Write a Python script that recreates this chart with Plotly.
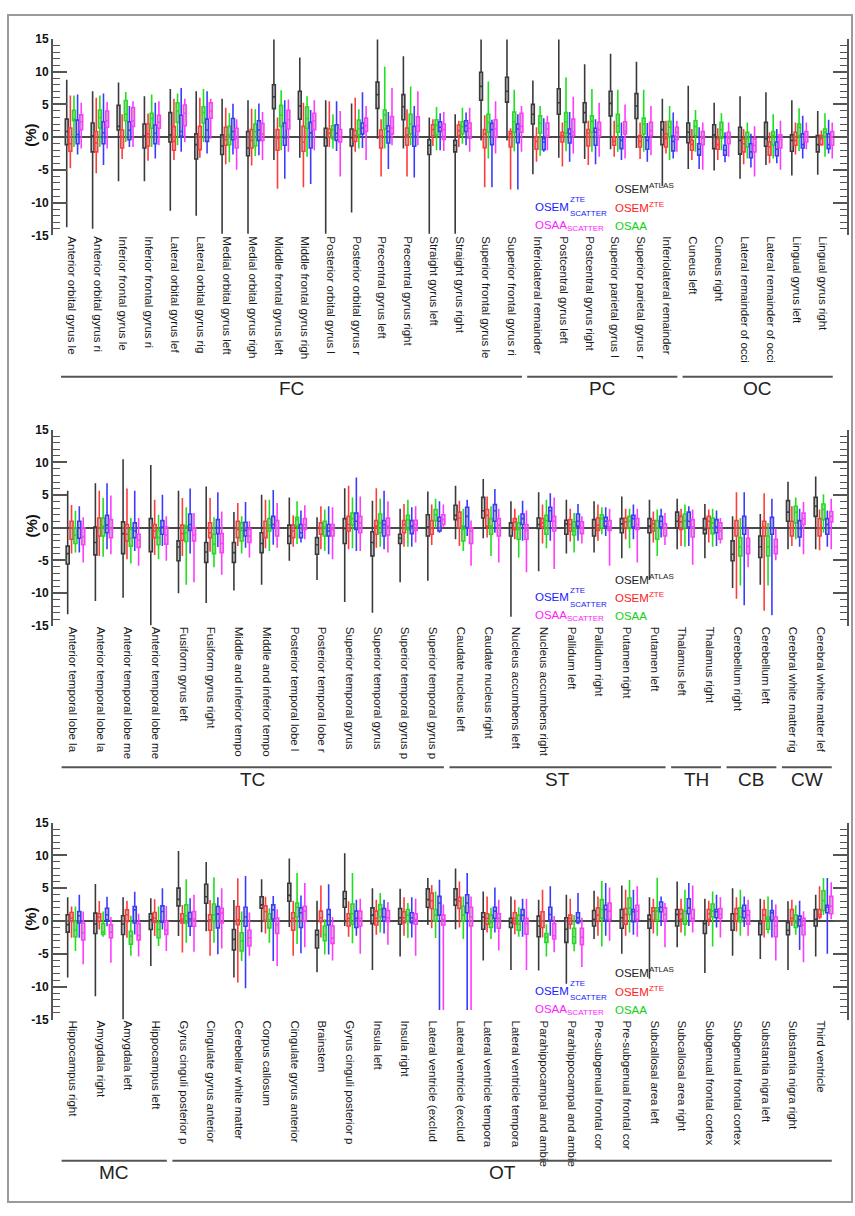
import plotly.graph_objects as go

# ---------------- categories ----------------
P1_LABELS = ["Anterior orbital gyrus le", "Anterior orbital gyrus ri", "Inferior frontal gyrus le",
             "Inferior frontal gyrus ri", "Lateral orbital gyrus lef", "Lateral orbital gyrus rig",
             "Medial orbital gyrus left", "Medial orbital gyrus righ", "Middle frontal gyrus left",
             "Middle frontal gyrus righ", "Posterior orbital gyrus l", "Posterior orbital gyrus r",
             "Precentral gyrus left", "Precentral gyrus right", "Straight gyrus left",
             "Straight gyrus right", "Superior frontal gyrus le", "Superior frontal gyrus ri",
             "Inferiolateral remainder", "Postcentral gyrus left", "Postcentral gyrus right",
             "Superior parietal gyrus l", "Superior parietal gyrus r", "Inferiolateral remainder",
             "Cuneus left", "Cuneus right", "Lateral remainder of occi", "Lateral remainder of occi",
             "Lingual gyrus left", "Lingual gyrus right"]
P1_GROUPS = [("FC", 0, 17), ("PC", 18, 23), ("OC", 24, 29)]

P2_LABELS = ["Anterior temporal lobe la", "Anterior temporal lobe la", "Anterior temporal lobe me",
             "Anterior temporal lobe me", "Fusiform gyrus left", "Fusiform gyrus right",
             "Middle and inferior tempo", "Middle and inferior tempo", "Posterior temporal lobe l",
             "Posterior temporal lobe r", "Superior temporal gyrus", "Superior temporal gyrus",
             "Superior temporal gyrus p", "Superior temporal gyrus p", "Caudate nucleus left",
             "Caudate nucleus right", "Nucleus accumbens left", "Nucleus accumbens right",
             "Pallidum left", "Pallidum right", "Putamen right", "Putamen left",
             "Thalamus left", "Thalamus right", "Cerebellum right", "Cerebellum left",
             "Cerebral white matter rig", "Cerebral white matter lef"]
P2_GROUPS = [("TC", 0, 13), ("ST", 14, 21), ("TH", 22, 23), ("CB", 24, 25), ("CW", 26, 27)]

P3_LABELS = ["Hippocampus right", "Amygdala right", "Amygdala left", "Hippocampus left",
             "Gyrus cinguli posterior p", "Cingulate gyrus anterior", "Cerebellar white matter",
             "Corpus callosum", "Cingulate gyrus anterior", "Brainstem", "Gyrus cinguli posterior p",
             "Insula left", "Insula right", "Lateral ventricle (exclud", "Lateral ventricle (exclud",
             "Lateral ventricle tempora", "Lateral ventricle tempora", "Parahippocampal and ambie",
             "Parahippocampal and ambie", "Pre-subgenual frontal cor", "Pre-subgenual frontal cor",
             "Subcallosal area left", "Subcallosal area right", "Subgenual frontal cortex",
             "Subgenual frontal cortex", "Substantia nigra left", "Substantia nigra right",
             "Third ventricle"]
P3_GROUPS = [("MC", 0, 3), ("OT", 4, 27)]

# ---------------- values: (lower whisker, q1, median, q3, upper whisker) ----------------
P1_OSEM_ATLAS = [(-13.75, -1.15, 0.85, 2.75, 8.75), (-14, -2.25, 0.15, 2.15, 7), (-6.75, 1.1, 1.65, 4.85, 8.35),
                 (-6.75, -1.65, 0.15, 2, 6.25), (-11.25, -0.75, 0.35, 3.75, 7.35), (-12, -3.35, -1.15, 0.5, 7),
                 (-14.75, -2.65, -1.35, 0.35, 5.85), (-14.75, -2.85, -1.65, 0.85, 5.65), (-3.5, 4.35, 6.15, 8, 14.9),
                 (-3.15, 2.75, 4.75, 7, 12.15), (-14.75, -1.35, -0.1, 1.35, 5.65), (-11.5, -1.35, -0.1, 1.25, 5.15),
                 (-0.25, 4.4, 6.5, 8.4, 14.9), (-1.75, 2.65, 4.65, 6.5, 12.35), (-14.75, -2.65, -1.25, -0.4, 3),
                 (-14.75, -2.25, -1.25, -0.5, 3.5), (-0.5, 5.65, 7.75, 9.9, 14.9), (-0.5, 5.35, 7, 9.15, 14.9),
                 (-5.65, 2, 3.5, 5, 8.65), (-3.15, 3.5, 5.25, 7.4, 14.9), (-3.35, 2.25, 3.75, 5.25, 11.15),
                 (-1.85, 3.25, 5.15, 7, 12.75), (-1.65, 2.85, 4.75, 6.65, 11.5), (-7.5, -1.15, 1.15, 2.35, 5.85),
                 (-4.85, -0.85, 0.75, 2.15, 7.85), (-5.1, -1.75, 0.35, 1.9, 5.25), (-6.35, -2.6, -0.5, 1.5, 6.25),
                 (-4.25, -1.4, -0.25, 2.25, 6.85), (-5.85, -2.15, -0.5, 0.35, 5.65), (-5.75, -2.25, -1.15, 0.25, 4)]
P1_OSEM_ZTE = [(-4.75, -2.15, -1, 1.4, 6.35), (-5.5, -2.25, -0.9, 0.85, 6), (-3.35, -1.65, 0.1, 1.1, 3.5),
               (-3.6, -1.35, 0.5, 2, 3.6), (-3.5, -2, -0.65, 1.6, 5.85), (-3.15, -1.9, 0, 1.65, 6),
               (-4.15, -1.25, -0.4, 1.5, 4.5), (-4.35, -1.65, -0.5, 1.15, 4.35), (-7.9, -2, -0.15, 1.15, 3),
               (-7.65, -2.15, -0.75, 1.65, 5.25), (-1.5, 0, 0.6, 1.25, 5.5), (-2.25, -0.65, 0.25, 1, 6),
               (-6, -1.65, 0.15, 1.1, 2.75), (-6, -1.25, 0.35, 1.4, 4.25), (-1.35, 0.15, 1.15, 1.9, 2.75),
               (-1.5, 0.25, 1, 1.85, 2.5), (-7.65, -1.6, 0.5, 1.15, 3.35), (-8, -1.5, 0.5, 0.85, 1.35),
               (-3.75, -1.85, -0.65, 0, 1.5), (-4.5, -0.75, 0.25, 0.75, 2.25), (-4.25, -1.35, 0.6, 1.15, 2.5),
               (-3, -1.25, -0.65, 0, 2.5), (-3.35, -1.5, -0.65, 0.25, 2.25), (-2.5, -1.5, -0.25, 0.5, 2.5),
               (-3.5, -2, -1.1, -0.5, 1.25), (-3.5, -1.85, -1.15, -0.25, 1.35), (-4.15, -2.25, -1, -0.25, 1.25),
               (-4, -2.75, -1.5, -0.75, 0.75), (-2.65, -1.25, -0.5, 0.75, 2.25), (-1.3, -1.15, -0.25, 0.25, 1)]
P1_OSAA = [(-1.5, 2.5, 2.75, 4.1, 6.35), (-1.5, 1.4, 3, 4.15, 6.35), (-0.75, 2.5, 3.5, 5.6, 6.9),
           (-1.5, 1.35, 2.85, 3.65, 6.5), (-1.25, 2.25, 4, 5.25, 6.65), (-0.75, 2.15, 3.75, 4.65, 7.35),
           (-3.85, -1.15, 0.35, 1.65, 3.65), (-2.9, -1.35, 0.85, 2, 4.25), (-2, 1.65, 3.35, 4.85, 7.15),
           (-3, 1.35, 2.85, 4.6, 6.25), (-1.75, -0.25, 1.15, 1.75, 3.5), (-1.75, 0.35, 1.25, 2.6, 4.25),
           (-1.75, 1.25, 3.4, 4.15, 10.75), (-1.25, 0.5, 2, 3.5, 7.75), (-2, 0.35, 1.85, 2.65, 4.6),
           (-1, 0.5, 1.6, 2.35, 4.5), (-3.25, 0.75, 2.25, 3.5, 8.5), (-2.15, 0.75, 2.35, 3.85, 7.25),
           (-2.85, 0.6, 2.1, 3.25, 4.75), (-2.15, 0.65, 2.35, 3.75, 9.15), (-2.25, 0.75, 2.4, 3.25, 7.35),
           (-2.25, 0.75, 1.75, 3.5, 7.25), (-2.25, 0.5, 2, 2.9, 7.25), (-3.5, 0, 1.5, 2.4, 4.75),
           (-2.25, 0.25, 1.65, 2.5, 4.15), (-2, -0.15, 1.15, 2.25, 3.65), (-3.25, -1.5, -0.25, 0.75, 2.25),
           (-3.25, -1.25, 0.25, 0.85, 3.5), (-2.1, 0.25, 1.5, 2, 4.4), (-3, 0, 0.75, 1.25, 3.65)]
P1_OSEM_SCATTER = [(-2.65, -1, 0.4, 2.6, 6.5), (-4.25, -1, 0.65, 2.35, 6.65), (-1.5, -0.4, 1.05, 2.35, 4.75),
                   (-3.25, -1, 0.6, 1.85, 5.25), (-2.25, 0.15, 0.85, 3.35, 7.5), (-2.5, -0.65, 1.1, 2.75, 7),
                   (-2.65, -0.4, 0.85, 2.85, 5.1), (-2.75, -0.5, 1.1, 2.5, 5.15), (-6.35, -1.25, -0.1, 2.15, 5.65),
                   (-7.15, -1.65, 0.65, 2.25, 4.15), (-2.1, -0.5, 0.6, 1.9, 5.5), (-1.65, 0.5, 1.4, 2.15, 6.85),
                   (-4.85, -0.9, 0.85, 1.75, 3.85), (-6.15, -1.4, 0.1, 1.65, 4.75), (-2, 0.85, 1.5, 2.35, 3.65),
                   (-1.25, 0.85, 1.75, 2.5, 3.75), (-7.65, -1.15, 1.15, 2.1, 2.65), (-8, -0.85, 1.25, 2, 3.5),
                   (-2.25, -1.9, -0.75, -0.25, 2.9), (-3.75, -0.9, 0.5, 1.25, 3.85), (-4.15, -1.25, 0.75, 1.35, 2.75),
                   (-3.5, -1.75, -0.5, 0, 2.25), (-3.75, -1.85, -0.5, 0, 2.15), (-3.25, -2.1, -0.65, 0.15, 3.75),
                   (-4.85, -2.75, -1.85, -1, 1.5), (-3.85, -2.75, -2, -1.25, 0.75), (-4.65, -3.15, -2.25, -1, 0.5),
                   (-4, -2.85, -1.85, -0.75, 1.25), (-3.25, -1.65, -1.15, 0.5, 3.25), (-2.5, -1.75, -1.15, 0.5, 2.65)]
P1_OSAA_SCATTER = [(-1.75, 1.15, 2.35, 3.4, 5.25), (-1.75, 1.5, 2.5, 4, 5.35), (-1.5, 1.65, 2.5, 4.5, 5.5),
                   (-1.25, 1.35, 2.25, 3.35, 5.5), (-0.75, 1.75, 3.65, 4.9, 5.85), (-0.25, 2.9, 4, 5.25, 5.85),
                   (-5, -1.65, -0.15, 1.35, 2.75), (-3.5, -0.5, 0.5, 2.1, 3.85), (-2.25, 1.25, 2.65, 4.1, 5.75),
                   (-2, 1.15, 2.5, 3.65, 5.65), (-6, -0.75, 0, 1.15, 4), (-3.5, 0.85, 1.75, 2.9, 4.75),
                   (-1.25, 0.5, 1.4, 3.15, 7.5), (-1.25, 0.85, 1.75, 3.1, 7), (-2.1, -0.35, 1.15, 2, 3.85),
                   (-2.25, -0.15, 1.35, 2.15, 4.5), (-2.5, 0, 1.25, 2.65, 5.5), (-2.25, 0.75, 1.65, 3.65, 4.75),
                   (-2, 0.15, 1.25, 2.15, 3.25), (-2.5, 0.25, 0.75, 2.75, 6.15), (-3, 0.15, 1.15, 2.25, 5.25),
                   (-3.25, 0.5, 0.9, 2.35, 5), (-2.75, 0.25, 1, 2.25, 4.75), (-2.25, -0.35, 0.75, 1.5, 2.5),
                   (-5, -1.15, -0.15, 0.85, 2.25), (-3, -1, -0.15, 0.75, 2.25), (-6, -2.25, -1.25, -0.25, 1.65),
                   (-5, -1.65, -0.35, 0.35, 2.5), (-1.85, -0.75, 0, 0.85, 2.25), (-3.25, -1.25, 0, 0.85, 2.25)]

P2_OSEM_ATLAS = [(-13.25, -5.55, -3.95, -2.8, 5.65), (-11.2, -4.15, -2.25, 0.1, 6.8), (-10.7, -3.95, -0.9, 0.9, 10.5),
                 (-14.9, -3.65, 0, 1.4, 9.6), (-10, -5.05, -2.95, -2, 5.65), (-11.5, -5.3, -3.7, -2.25, 6.3),
                 (-9.6, -5.3, -3.8, -2.25, 2.4), (-8.7, -3.8, -2.4, -0.75, 5.05), (-5.05, -2.4, -1.25, 0.4, 4.65),
                 (-8, -4.05, -2.6, -1.5, 1.6), (-11.35, -2.4, -0.1, 1.4, 6.05), (-13, -4.3, -2.25, -0.6, 4.15),
                 (-8.35, -2.4, -1.6, -1, 2.9), (-8.1, -1.25, 0.1, 2, 5.55), (-1.75, 1.25, 1.9, 3.45, 6.45),
                 (-1.6, 1.5, 2.6, 4.65, 7.45), (-13.6, -1.25, 0, 0.75, 4.05), (-6.65, -0.1, 0.5, 1.5, 5.45),
                 (-3.95, -1, 0.6, 1.15, 4.3), (-3.8, -1.25, 0, 1.25, 4.05), (-4.65, -0.75, 0.6, 1.4, 4.8),
                 (-8, -0.75, 0.25, 1.4, 4.3), (-3.3, 0, 1, 2.4, 4.45), (-4.65, -0.9, -0.25, 1.4, 3.65),
                 (-9.2, -5.05, -4.05, -2, 1.75), (-8.7, -4.55, -2.9, -1.25, 2.1), (-3.3, 1, 2.4, 4.15, 7.05),
                 (-3.3, 1.75, 3.3, 4.65, 7.85)]
P2_OSEM_ZTE = [(-3.95, -1.75, 0, 1, 3.5), (-4.3, -1.25, 0, 1.5, 5.65), (-4.8, -2, -1, 0.5, 6),
               (-4.15, -1.5, -0.5, 0.5, 4.3), (-4.3, -1.9, -0.9, 0.4, 4.55), (-3.65, -1.5, -0.75, 0.75, 4.55),
               (-2.8, -1.5, -0.25, 1, 3.8), (-3.15, -1.5, 0, 1, 4.3), (-2.9, -1.5, -0.5, 0.4, 1.9),
               (-3.3, -1, -0.1, 0.75, 3.3), (-3.3, -0.5, 0.5, 1.75, 6.45), (-3.05, -1, 0.25, 1.1, 6.05),
               (-2.9, -0.75, 0.5, 1.1, 3.65), (-2.65, -1, -0.1, 1.1, 3.55), (-2.8, 0, 1.5, 2.4, 4.15),
               (-1.5, 0.25, 1.9, 2.8, 4.8), (-1.75, -0.25, 0.9, 1.4, 2.9), (-2.4, 0.1, 0.75, 1.4, 3.55),
               (-2.1, -0.5, 0.5, 1.25, 2.9), (-2, -0.4, 0.4, 1.5, 3.55), (-1.75, 0, 0.9, 1.5, 2.9),
               (-2.25, -0.5, 0.6, 1.1, 2.5), (-2.8, -0.25, 0.9, 1.75, 2.9), (-2.25, 0, 1, 1.75, 2.8),
               (-10.85, -1.25, 0, 1.1, 5.45), (-12.7, -1.25, 0.1, 1, 5.3), (-2.8, -1.25, 0, 1, 3.3),
               (-3.45, -1.25, -0.1, 1.4, 2.8)]
P2_OSAA = [(-3.8, -2.4, -1.1, 0, 2.6), (-4.45, -1.25, 0.25, 1.5, 4.55), (-5.45, -2.8, -1.6, -0.25, 1.5),
           (-4.8, -2.6, -1.5, -0.4, 2), (-8.7, -2.1, -0.75, 0.25, 3.15), (-6.05, -3.95, -2.5, -1, 1.6),
           (-3.95, -2, -0.4, 0.75, 1.75), (-3.55, -0.5, 0.4, 1.4, 4.3), (-2.5, 0.25, 1.25, 1.6, 4.05),
           (-3.55, -1.25, 0.1, 1, 2.8), (-3.15, 0.4, 1.4, 2.25, 4.65), (-2.9, -0.75, 0.75, 2.1, 4.45),
           (-2.9, -0.25, 1.25, 1.9, 4.3), (-0.1, 1.1, 2, 2.8, 4.45), (-3.55, -2, -0.25, 0.25, 2.9),
           (-4.3, -1, 0.25, 1.4, 3.3), (-4.55, -1.75, -0.25, 0.75, 1.9), (-3.15, -1, 1.1, 1.9, 4.3),
           (-3.8, -1.1, -0.5, 0.9, 2.25), (-1, 0, 1.4, 2, 3.15), (-3.15, -0.1, 1, 1.75, 2.9),
           (-4.3, -1.75, 0, 1.1, 2.8), (-2.9, 0, 1.1, 2.1, 3.55), (-2.9, -0.9, 0.75, 1.5, 2.9),
           (-8.85, -4.3, -2.9, -1.5, 1.5), (-8.85, -4.3, -2.9, -1.25, 0.75), (-1.75, 0.75, 2.4, 3.3, 4.65),
           (-0.75, 1.25, 2.8, 3.65, 5.15)]
P2_OSEM_SCATTER = [(-3.8, -1.6, 0, 1, 3.3), (-3.3, -0.75, 0.4, 1.9, 6.8), (-3.55, -1.5, -0.5, 0.75, 5.65),
                   (-2.8, -1, 0.1, 1.1, 5.05), (-3.95, -0.4, 0.5, 2.1, 6), (-2.95, -0.9, 0, 1.25, 5.45),
                   (-3.05, -1.25, -0.4, 0.85, 3.95), (-2.6, 0, 0.5, 1.75, 5.8), (-2.25, -1.5, -0.75, 0.5, 2.65),
                   (-4.05, -1.25, -0.5, 0.5, 3.3), (-3.55, -0.25, 1, 2.25, 7.7), (-3.3, -1.25, 0.5, 1.1, 5.65),
                   (-2.9, -0.9, 0.25, 1.1, 3.15), (-0.75, -0.5, 1, 1.6, 4.05), (-1.25, 0, 1.75, 3.15, 4.3),
                   (-0.75, 1, 2.6, 3.55, 5.95), (-2, 0.5, 1.4, 2.1, 4.15), (-2, 1, 2.6, 3.15, 5.3),
                   (-2, 0.25, 1, 2.1, 3.65), (-1.25, 0.25, 1, 1.6, 3.15), (-1.75, 0.1, 1.4, 1.9, 3.55),
                   (-1.5, 0.1, 1, 1.75, 2.9), (-2.8, 0.1, 1, 2.4, 3.3), (-2.8, -0.75, 0.1, 1.25, 2.65),
                   (-11.85, -1, 0, 1.75, 5.45), (-13.4, -1, 0, 1.6, 4.45), (-2.9, -1.4, -0.1, 1.1, 2.9),
                   (-2.9, -1, 0.5, 1.4, 2.65)]
P2_OSAA_SCATTER = [(-5.3, -2.6, -1.4, 0, 1.6), (-4.05, -1.5, -0.15, 1.25, 4.95), (-5.8, -3, -1.9, -1, 1.5),
                   (-5.05, -2.5, -1.1, 0.1, 1.75), (-8.35, -2, -1.1, 0, 2.25), (-7.2, -3.8, -2.4, -0.9, 2.5),
                   (-4.55, -2.25, -1.25, -0.25, 1), (-3.05, -1.25, 0, 1.1, 3.8), (-1.75, -0.25, 0.5, 1.4, 3.45),
                   (-4.8, -1.25, -0.25, 0.5, 3.15), (-3.55, -0.75, 0.75, 1.75, 4.8), (-3.8, -1.1, 0.25, 1.5, 4.05),
                   (-2.25, -0.4, 0.5, 1.15, 3.3), (0.1, 0.5, 1.25, 2, 3.55), (-5.8, -2.4, -0.5, 0, 1.1),
                   (-5.3, -1.25, 0.4, 1.4, 2.9), (-6.8, -1.75, -0.4, 0.5, 2.65), (-6.3, -0.5, 1, 1.75, 4.65),
                   (-2.4, -0.9, 0, 0.9, 1.75), (-5.8, -0.4, 0.1, 1.1, 2.9), (-5.3, -0.25, 0.5, 1.4, 2.9),
                   (-2.65, -1.25, -0.1, 0.6, 2.25), (-5.65, -1.4, 0.1, 1.25, 2.8), (-2.4, -1.75, -0.5, 0.75, 1.5),
                   (-6.05, -3.95, -2.85, -1.6, -0.1), (-4.95, -3.95, -2.9, -1.75, -0.1), (-4.05, 0.5, 1.4, 2.25, 3.95),
                   (-3.3, 0.9, 1.75, 2.5, 4.45)]

P3_OSEM_ATLAS = [(-8.6, -1.7, -0.55, 0.95, 3.6), (-11.45, -1.9, -0.45, 1.2, 5.65), (-15, -2.05, -0.45, 0.8, 3.6),
                 (-6.85, -1.3, 0.2, 1.1, 3.45), (-2.3, 2.3, 3.3, 5, 10.65), (-1.55, 2.7, 3.7, 5.6, 9),
                 (-8.6, -4.4, -2.8, -1.3, 3.2), (-1.7, 1.95, 2.45, 3.7, 6.35), (-0.9, 3.0, 3.9, 5.75, 9.5),
                 (-7.8, -4.1, -2.1, -1.4, 3.1), (-0.75, 2.1, 3.4, 4.5, 10.3), (-7.45, -0.4, 0.9, 2, 5),
                 (-5.4, -0.5, 0.5, 1.9, 4.9), (-0.6, 2.1, 3.25, 4.9, 6.55), (-1.25, 2.4, 3.25, 4.9, 8),
                 (-6, -1.25, 0.6, 1.25, 4.5), (-7.45, -1, -0.25, 0.4, 3.75), (-7.55, -2.4, -0.75, 0.75, 3.25),
                 (-9.55, -3.25, -1.25, 0.5, 4), (-2.75, -0.75, 0.25, 1.6, 4.6), (-5, -1.1, 0.5, 1.75, 5.4),
                 (-8.8, -1.1, 0.25, 0.9, 3.6), (-4, -0.75, 1, 1.75, 6), (-7.9, -1.9, -0.4, 0, 3.4),
                 (-5.3, -1.4, 0, 1.1, 5), (-5.8, -2.1, -0.4, 0, 3.4), (-7.45, -2.1, -1.4, -0.25, 3),
                 (-5.4, -0.75, 0.25, 1.75, 4)]
P3_OSEM_ZTE = [(-2.55, -0.05, 0.45, 1.3, 2.2), (-1.3, -0.05, 0.6, 1.1, 3.05), (-2.55, -0.05, 0.95, 1.7, 3.1),
               (-2.3, -0.2, 0.45, 1.3, 3.3), (-4.8, -0.3, 0.3, 1.1, 2.45), (-5.3, -1.4, 0.2, 0.95, 3.2),
               (-9.35, -0.55, 0.2, 2.2, 6.5), (-1.9, 0.1, 1.45, 2.3, 3.7), (-5.3, -1.4, 0.4, 1.25, 3.1),
               (-2.5, -0.1, 0.5, 1.5, 5.4), (-2.4, -0.75, 0.4, 1.1, 3), (-2.1, -0.6, 0.4, 1.5, 3.25),
               (-2.25, -0.25, 0.5, 1.4, 3.6), (-1.1, 1.9, 3.1, 4.25, 5.5), (-1, 1.9, 3, 3.6, 6),
               (-1.75, -0.5, 0.4, 1.1, 3.75), (-2, -0.4, 0.4, 1.25, 3.25), (-2.5, -1, 0, 1.4, 4.75),
               (-1.25, -0.5, 0.4, 0.9, 3.4), (-2.25, 0, 0.9, 2, 3.75), (-2.25, -0.5, 1, 1.9, 4.75),
               (-1.9, 0.1, 1.5, 2, 3.4), (-1.75, 0.25, 1.1, 1.75, 3.4), (-0.75, 0.25, 1.1, 1.75, 3.1),
               (-1.6, 0, 1.1, 1.9, 3.6), (-2.5, 0, 0.9, 1.75, 3.25), (-0.75, 0, 0.4, 1.75, 3.25),
               (0.25, 0.6, 1, 1.75, 5.3)]
P3_OSAA = [(-4.55, -2.4, -1.4, -0.05, 2.2), (-2.4, -2.05, -1.7, -0.4, 1.45), (-5.3, -3.55, -2.3, -1.55, 0.8),
           (-3.8, -2.55, -1.3, -0.3, 2.2), (-3.3, -0.3, 0.8, 2.45, 6.35), (-3.3, -0.05, 0.95, 2.6, 6.65),
           (-6.1, -4.55, -3.05, -1.8, 1.45), (-3.3, -1.05, 0.2, 1.1, 1.95), (-3.5, 0.6, 2.1, 2.75, 7.3),
           (-5.1, -3, -2.1, -0.75, 0.25), (-3.4, -0.5, 1.1, 2.6, 7.3), (-1.75, 0.6, 1.75, 2.5, 4.25),
           (-2.6, 0, 0.9, 1.75, 2.75), (-2.6, 0, 0.9, 1.75, 4.5), (-2.75, 0, 0.9, 2.25, 3.75),
           (-2.75, -1, -0.25, 0.9, 2), (-2.4, -1.4, -0.5, 0.9, 2.1), (-5.4, -3.25, -2.5, -1.9, -0.5),
           (-4.6, -3.4, -2.4, -1.1, 0.9), (-3.9, 0.4, 1.75, 3.25, 6.1), (-1.75, 1, 2, 3.5, 6.25),
           (-2.25, 0.1, 1.5, 2, 6.6), (-2.25, -0.5, 0, 1.5, 4.75), (-3.9, 0.6, 1.5, 2.6, 4.5),
           (-2.25, -0.1, 0.6, 2, 4.75), (-1.9, -1.25, 0.25, 0.6, 3.75), (-2.1, -1, -0.25, 0.9, 2.4),
           (0.9, 1.6, 3.1, 4.6, 6.55)]
P3_OSEM_SCATTER = [(-2.55, -0.3, 0.8, 1.45, 4), (-0.8, 0.2, 0.95, 1.95, 3.7), (-2.05, -0.3, 1.7, 2.2, 4.45),
                   (-1.3, -0.2, 1.45, 2.3, 5), (-2.3, -0.8, 0.3, 1.3, 3.45), (-5.05, -1.05, 1.05, 2.2, 3.6),
                   (-10.25, -0.8, 0.6, 2.1, 6.85), (-6.1, 0.3, 1.7, 2.45, 3.8), (-4.9, -1, 1.25, 2, 3.9),
                   (-5.1, -0.6, 1, 1.75, 5.6), (-2.25, -1, 0.4, 1.5, 3.25), (-1.9, 0, 0.6, 1.9, 3.25),
                   (-2.5, -0.25, 0.5, 1.25, 3.6), (-13.55, 0.9, 2.75, 3.75, 6.3), (-13.55, 1.25, 2.75, 4, 7.3),
                   (-1.75, 0.4, 1.5, 2.1, 5.1), (-2.4, 0, 0.9, 1.75, 3.4), (-2.25, 0.1, 1, 2.1, 5.3),
                   (-0.5, -0.25, 0.5, 1.25, 4.25), (-2.25, 0.1, 1.75, 2.4, 5.8), (-2.1, -0.1, 1.4, 1.75, 4.75),
                   (-0.75, 1.4, 2.1, 2.9, 3.75), (-0.75, 1.1, 2, 3.4, 5.8), (-1, 0.5, 1.4, 1.75, 4),
                   (-0.9, 0.5, 1.5, 2.4, 3.75), (-2.5, 0.1, 1.25, 1.6, 3.25), (-4.4, -0.75, 0.25, 0.75, 3.1),
                   (-5, 1.25, 2.1, 2.4, 6.55)]
P3_OSAA_SCATTER = [(-6.6, -2.9, -1.8, -0.3, 1.45), (-6.35, -2.55, -1.7, -0.55, 0.6), (-5.4, -2.9, -2.2, -0.4, 1.1),
                   (-4.55, -2.05, -1.4, -0.05, 2.3), (-4.7, -0.8, 0.3, 1.45, 4), (-4.2, -0.3, 1.2, 1.95, 5),
                   (-5.3, -3.8, -2.55, -1.4, 1.3), (-6.85, -1.9, -0.55, 0.45, 1.8), (-4, 0, 1.5, 2.25, 5.8),
                   (-6, -3.4, -2.6, -0.75, 0.6), (-5, -0.75, 0.4, 1.5, 3.4), (-3.6, -0.1, 0.5, 1.6, 2.9),
                   (-5.3, -0.5, 0.25, 1.1, 3.4), (-13.55, -0.6, 0.25, 0.9, 2.5), (-13.55, -0.75, 0.6, 2.1, 3.75),
                   (-4.5, -1.1, 0.4, 1.1, 3.25), (-7.45, -2, -0.4, 0.4, 3.4), (-4.75, -2.75, -2.25, -0.4, 0.75),
                   (-7, -3.6, -2.5, -1.1, 0.5), (-3, 0.25, 1.5, 2.75, 5.1), (-2.4, 0.25, 1.5, 2.4, 5.3),
                   (-4, 0.1, 1, 2, 2.75), (-1.75, 0, 0.4, 1.75, 5.4), (-2.5, 0.4, 1, 1.9, 3.6),
                   (-2.25, -0.5, 0.9, 1.6, 3.25), (-6, -2.4, -0.75, 0.6, 2.5), (-6.3, -2.1, -0.6, 0.4, 1.5),
                   (0.25, 1.1, 2.25, 3.75, 5.9)]

SERIES_NAMES = ["OSEM ATLAS", "OSEM ZTE", "OSAA", "OSEM SCATTER ZTE", "OSAA SCATTER"]
COLORS = ["#3a3a3a", "#ff3b3b", "#1ee01e", "#3b3bff", "#ff3bff"]
FILL = "rgba(150,150,150,0.6)"
AX = "#555555"
FONT = "Liberation Sans, Arial, sans-serif"

W, H = 855, 1216
X_L, X_R = 53, 847
PANELS = [
    dict(labels=P1_LABELS, groups=P1_GROUPS, top=32.3, bottom=231.0,
         series=[P1_OSEM_ATLAS, P1_OSEM_ZTE, P1_OSAA, P1_OSEM_SCATTER, P1_OSAA_SCATTER]),
    dict(labels=P2_LABELS, groups=P2_GROUPS, top=427.7, bottom=626.0,
         series=[P2_OSEM_ATLAS, P2_OSEM_ZTE, P2_OSAA, P2_OSEM_SCATTER, P2_OSAA_SCATTER]),
    dict(labels=P3_LABELS, groups=P3_GROUPS, top=825.0, bottom=1024.3,
         series=[P3_OSEM_ATLAS, P3_OSEM_ZTE, P3_OSAA, P3_OSEM_SCATTER, P3_OSAA_SCATTER]),
]
OFFSETS = [-0.28, -0.14, 0.0, 0.14, 0.28]

fig = go.Figure()
layout = {}
shapes = []
annotations = []


def py(px):
    return 1 - px / H


def note(text, x, yref, y, color, size=11.5, yshift=0):
    return dict(text=text, xref="paper", yref=yref, x=x / W, y=y, yshift=yshift, xanchor="left",
                yanchor="middle", showarrow=False, font=dict(family=FONT, size=size, color=color))


for p, pan in enumerate(PANELS):
    sfx = "" if p == 0 else str(p + 1)
    n = len(pan["labels"])
    for k, data in enumerate(pan["series"]):
        lo, q1, med, q3, hi = (list(v) for v in zip(*data))
        fig.add_trace(go.Box(
            x=[i + OFFSETS[k] for i in range(n)],
            lowerfence=lo, q1=q1, median=med, q3=q3, upperfence=hi,
            width=0.11, whiskerwidth=0, boxpoints=False,
            line=dict(color=COLORS[k], width=1.6), fillcolor=FILL,
            name=SERIES_NAMES[k], showlegend=False, hoverinfo="skip",
            xaxis="x" + sfx, yaxis="y" + sfx))
    layout["xaxis" + sfx] = dict(
        domain=[X_L / W, X_R / W], range=[-0.81, n - 0.15], anchor="y" + sfx,
        tickmode="array", tickvals=[i - 0.1 for i in range(n)], ticktext=pan["labels"],
        tickangle=90, ticks="", showline=False, showgrid=False, zeroline=False,
        ticklabelstandoff=0,
        tickfont=dict(family=FONT, size=11.5, color="#1a1a1a"))
    layout["yaxis" + sfx] = dict(
        domain=[py(pan["bottom"]), py(pan["top"])], range=[-15, 15], anchor="x" + sfx,
        tickmode="array", tickvals=[-15, -10, -5, 0, 5, 10, 15],
        ticktext=["-15", "-10", "-5", "0", "5", "10", "15"],
        ticks="inside", ticklen=14, tickwidth=1.5, tickcolor=AX,
        minor=dict(ticks="inside", ticklen=7, tickwidth=1, tickcolor=AX, dtick=1, tick0=0, showgrid=False),
        showline=True, linecolor=AX, linewidth=2, mirror="ticks",
        showgrid=False, zeroline=True, zerolinecolor="#4a4a4a", zerolinewidth=1.8,
        tickfont=dict(family=FONT, size=12, color="#111", weight="bold"))
    annotations.append(dict(text="<b>(%)</b>", xref="paper", yref="y" + sfx, x=31 / W, y=0.2,
                            textangle=-90, showarrow=False, xanchor="center", yanchor="middle",
                            font=dict(family=FONT, size=15, color="#111")))
    line_y = py(pan["bottom"] + 143)
    text_y = py(pan["bottom"] + 155)
    for name, a, b in pan["groups"]:
        shapes.append(dict(type="line", xref="x" + sfx, yref="paper", x0=a - 0.5, x1=b + 0.3,
                           y0=line_y, y1=line_y, line=dict(color="#555555", width=2)))
        annotations.append(dict(text=name, xref="x" + sfx, yref="paper", x=(a - 0.5 + b + 0.3) / 2,
                                y=text_y, showarrow=False, xanchor="center", yanchor="middle",
                                font=dict(family=FONT, size=19, color="#222")))
    yr = "y" + sfx
    annotations += [
        note("OSEM<sup>ATLAS</sup>", 613, yr, -7.8, "#222"),
        note("OSEM<sup>ZTE</sup>", 613, yr, -10.6, "#ff2020"),
        note("OSAA", 613, yr, -13.5, "#10d010"),
        note("OSEM", 533, yr, -10.6, "#2020ff"),
        note("ZTE", 568, yr, -10.6, "#2020ff", size=8, yshift=7),
        note("SCATTER", 568, yr, -10.6, "#2020ff", size=8, yshift=-7),
        note("OSAA<sub>SCATTER</sub>", 533, yr, -13.5, "#ff20ff"),
    ]

shapes.append(dict(type="rect", xref="paper", yref="paper", x0=8 / W, x1=852 / W, y0=py(1209), y1=py(8),
                   line=dict(color="#9a9a9a", width=2)))

fig.update_layout(width=W, height=H, margin=dict(l=0, r=0, t=0, b=0),
                  paper_bgcolor="white", plot_bgcolor="white", boxmode="overlay",
                  shapes=shapes, annotations=annotations, showlegend=False, **layout)

fig.write_html("out.html", config={"displayModeBar": False},
               post_script="document.body.style.margin='0px';")
